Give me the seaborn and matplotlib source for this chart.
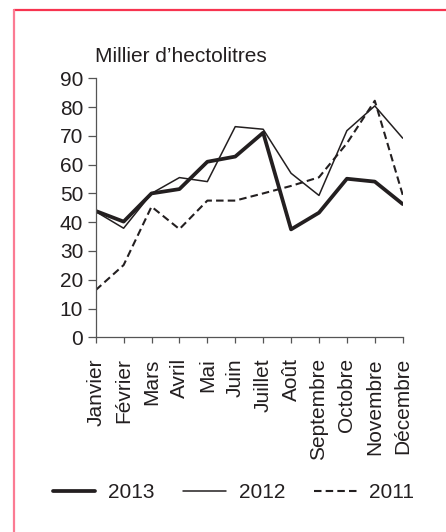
import numpy as np
import pandas as pd
import seaborn as sns
import matplotlib.pyplot as plt
from matplotlib.lines import Line2D

mois = ["Janvier", "Février", "Mars", "Avril", "Mai", "Juin", "Juillet",
        "Août", "Septembre", "Octobre", "Novembre", "Décembre"]

v2013 = [43.9, 40.2, 50.0, 51.5, 61.0, 62.8, 71.1, 37.5, 43.3, 55.1, 54.1, 46.3]
v2012 = [43.7, 37.9, 50.0, 55.5, 54.1, 73.2, 72.3, 57.0, 49.3, 71.8, 80.4, 69.2]
v2011 = [16.4, 25.1, 45.4, 37.6, 47.5, 47.5, 50.0, 52.6, 55.6, 67.4, 82.2, 49.5]

annees = ["2013", "2012", "2011"]
series = [v2013, v2012, v2011]

ink = "#231f20"

sns.set_style("ticks")
plt.rcParams["font.family"] = ["Liberation Sans", "DejaVu Sans"]
plt.rcParams["text.color"] = ink
plt.rcParams["xtick.color"] = ink
plt.rcParams["ytick.color"] = ink

df = pd.DataFrame({
    "mois": np.tile(np.arange(len(mois)), len(annees)),
    "valeur": np.concatenate(series),
    "annee": np.repeat(annees, len(mois)),
})

fig = plt.figure(figsize=(4.46, 5.32), dpi=100)
ax = fig.add_axes([95.7 / 446, 1 - 337.3 / 532, (402.7 - 95.7) / 446, (337.3 - 78.3) / 532])

styles = {
    "2013": dict(lw=2.7, ls="-"),
    "2012": dict(lw=1.1, ls="-"),
    "2011": dict(lw=1.5, ls=(0, (3.6, 2.0))),
}

for an in annees:
    sub = df[df["annee"] == an]
    sns.lineplot(data=sub, x="mois", y="valeur", ax=ax, color=ink,
                 linewidth=styles[an]["lw"], linestyle=styles[an]["ls"],
                 label=an, legend=False)

ax.set_xlim(0, 11)
ax.set_ylim(0, 90)
ax.set_yticks(range(0, 91, 10))
ax.set_xticks(range(len(mois)))
ax.set_xticklabels(mois, rotation=90, va="top", ha="center")
ax.set_xlabel("")
ax.set_ylabel("")
sns.despine(ax=ax)
for s in ["left", "bottom"]:
    ax.spines[s].set_color("#555555")
    ax.spines[s].set_linewidth(0.9)
ax.tick_params(axis="y", length=6, width=0.9, color="#555555", labelsize=15, pad=3)
ax.tick_params(axis="x", length=4, width=0.9, color="#555555", labelsize=15, pad=11)

fig.text(95 / 446, 1 - 62.5 / 532, "Millier d\u2019hectolitres", fontsize=15,
         ha="left", va="baseline")

handles = [Line2D([], [], color=ink, linewidth=styles[a]["lw"], linestyle=styles[a]["ls"])
           for a in annees]
fig.legend(handles, annees, loc="center", bbox_to_anchor=(233.5 / 446, 1 - 493 / 532),
           ncol=3, frameon=False, fontsize=15, handlelength=2.05,
           handletextpad=0.6, columnspacing=1.4)

# cadre rose
fig.add_artist(Line2D([14.5 / 446, 1], [1 - 10 / 532, 1 - 10 / 532],
                      transform=fig.transFigure, color="#f7334f", lw=1.6))
fig.add_artist(Line2D([14.5 / 446, 14.5 / 446], [0, 1 - 10 / 532],
                      transform=fig.transFigure, color="#fb7b93", lw=1.6))

fig.savefig("out.png", dpi=100)
plt.close(fig)
